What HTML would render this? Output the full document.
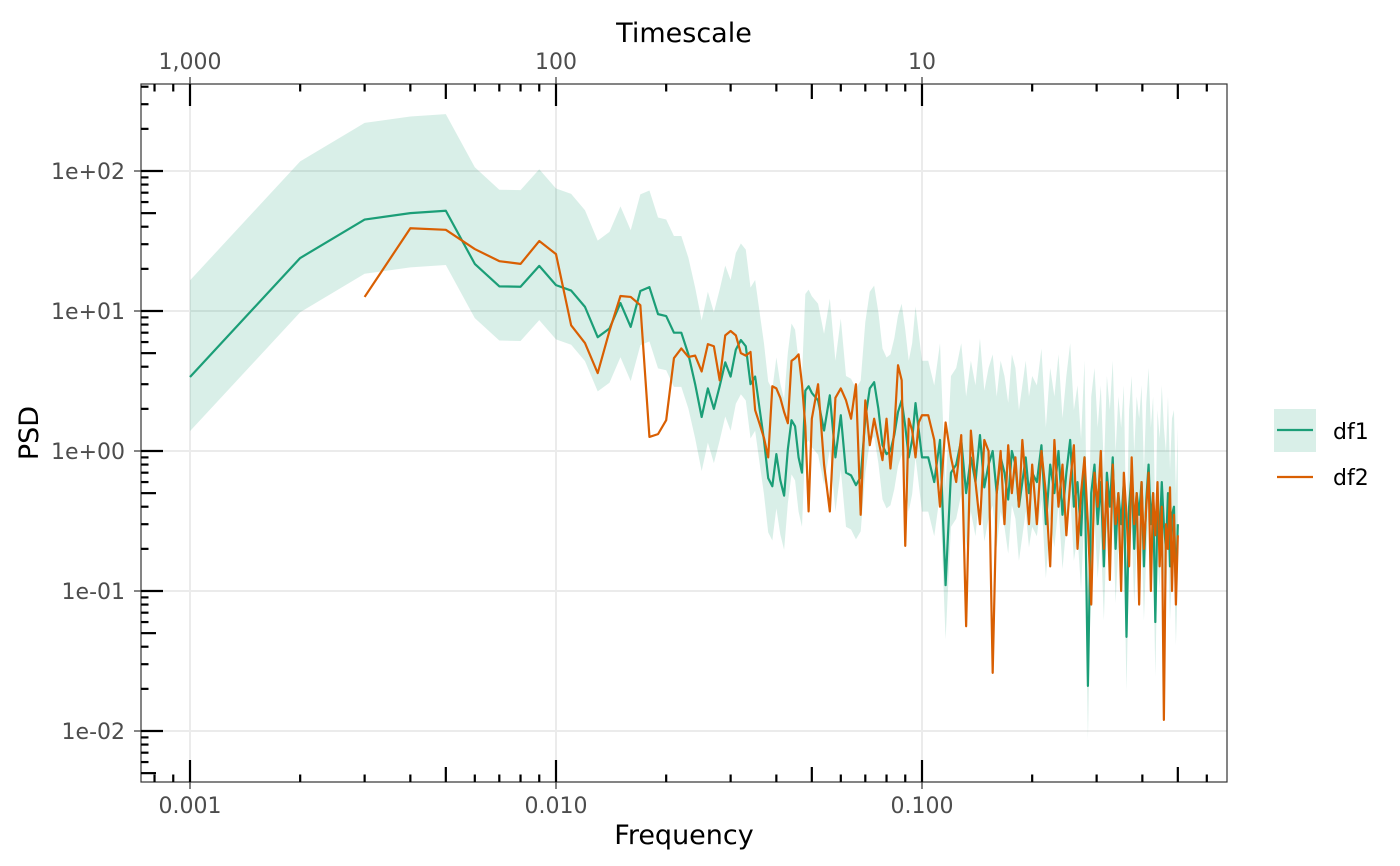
<!DOCTYPE html>
<html><head><meta charset="utf-8"><style>
html,body{margin:0;padding:0;background:#fff;}
svg{display:block;font-family:"DejaVu Sans","Liberation Sans",sans-serif;}
</style></head><body>
<svg id="chart" width="1400" height="866" viewBox="0 0 1400 866">
<defs><clipPath id="clip"><rect x="141" y="84" width="1086" height="698"/></clipPath></defs>
<g id="grid"></g>
<g id="marks" clip-path="url(#clip)"></g>
<rect x="141" y="84" width="1086" height="698" fill="none" stroke="#333" stroke-width="1.2"/>
<g id="axes"></g>
<text x="684" y="844" text-anchor="middle" font-size="27" fill="#000">Frequency</text>
<text x="684" y="42" text-anchor="middle" font-size="27" fill="#000">Timescale</text>
<text transform="translate(38,433) rotate(-90)" text-anchor="middle" font-size="27" fill="#000">PSD</text>
<g>
<g>
<rect x="1274" y="409" width="42" height="43" fill="#d9efe8"/>
<line x1="1277" y1="430" x2="1313" y2="430" stroke="#1b9e77" stroke-width="2.2"/>
<text x="1333" y="439" font-size="22" fill="#000">df1</text>
</g>
<g>
<line x1="1277" y1="477" x2="1313" y2="477" stroke="#d95f02" stroke-width="2.2"/>
<text x="1333" y="485" font-size="22" fill="#000">df2</text>
</g>
</g>
</svg>
<script>
const freq = [0.001,0.002,0.003,0.004,0.005,0.006,0.007,0.008,0.009,0.010,
0.011,0.012,0.013,0.014,0.015,0.016,0.017,0.018,0.019,0.020,
0.021,0.022,0.023,0.024,0.025,0.026,0.027,0.028,0.029,0.030,
0.031,0.032,0.033,0.034,0.035,0.036,0.037,0.038,0.039,0.040,
0.041,0.042,0.043,0.044,0.045,0.046,0.047,0.048,0.049,0.050,
0.052,0.054,0.056,0.058,0.060,0.062,0.064,0.066,0.068,0.070,
0.072,0.074,0.076,0.078,0.080,0.082,0.084,0.086,0.088,0.090,
0.092,0.094,0.096,0.098,0.100,
0.104,0.108,0.112,0.116,0.120,0.124,0.128,0.132,0.136,0.140,
0.144,0.148,0.152,0.156,0.160,0.164,0.168,0.172,0.176,0.180,
0.184,0.188,0.192,0.196,0.200,
0.206,0.212,0.218,0.224,0.230,0.236,0.242,0.248,0.254,0.260,
0.266,0.272,0.278,0.284,0.290,0.296,0.302,0.308,0.314,0.320,
0.326,0.332,0.338,0.344,0.350,0.356,0.362,0.368,0.374,0.380,
0.386,0.392,0.398,0.404,0.410,0.416,0.422,0.428,0.434,0.440,
0.446,0.452,0.458,0.464,0.470,0.476,0.482,0.488,0.494,0.500];
const psd1 = [3.38,23.9,45,50,52,21.7,15,14.9,21,15.3,
14,10.7,6.5,7.5,11.4,7.7,13.9,14.8,9.5,9.2,
7,7,4.9,3,1.75,2.8,2,2.9,4.3,3.4,
5.3,6.2,5.6,3,3.4,2,1.2,0.64,0.56,0.95,
0.62,0.48,1.03,1.66,1.5,0.9,0.7,2.7,2.9,2.6,
2.3,1.4,2.5,0.9,1.8,0.7,0.67,0.57,0.65,1.7,
2.8,3.1,2.0,1.1,0.95,1.0,1.3,1.9,2.3,1.5,
0.9,1.2,2.2,1.4,0.9,
0.9,0.6,1.2,0.11,0.7,0.8,1.2,0.5,0.9,0.6,
1.3,0.55,0.8,1.0,0.5,0.9,0.7,0.45,1.0,0.8,
0.4,0.6,0.9,0.5,0.7,
0.6,1.1,0.3,0.8,0.5,1.0,0.35,0.7,1.2,0.4,
0.6,0.25,0.9,0.021,0.5,0.8,0.3,0.6,0.15,0.7,
0.4,0.9,0.2,0.5,0.3,0.6,0.047,0.4,0.7,0.2,
0.5,0.35,0.6,0.15,0.45,0.8,0.3,0.5,0.06,0.4,
0.25,0.6,0.3,0.2,0.5,0.15,0.35,0.4,0.1,0.3];
const psd2 = [null,null,12.6,39,38,27.7,22.7,21.7,31.6,25.5,
7.9,5.9,3.6,7.2,12.8,12.6,11,1.26,1.32,1.66,
4.6,5.4,4.7,4.8,3.7,5.8,5.6,3.2,6.7,7.2,
6.7,5,4.8,5.1,1.96,1.56,1.24,0.9,2.9,2.8,
2.4,1.9,1.58,4.4,4.6,4.9,3,1.5,0.37,1.7,
3.0,0.8,0.37,2.4,2.8,2.3,1.7,3.0,0.35,2.3,
1.1,1.7,1.2,0.86,1.7,0.75,1.4,4.1,3.2,0.21,
1.7,1.4,0.9,1.6,1.8,
1.8,1.2,0.4,1.6,0.9,0.6,1.3,0.056,1.4,0.6,
0.3,1.2,1.0,0.026,0.5,1.0,0.3,1.1,0.5,0.9,
0.4,1.2,0.6,0.3,0.8,
0.3,1.0,0.5,0.15,1.2,0.4,0.8,0.25,0.6,1.1,
0.2,0.5,0.9,0.3,0.08,0.7,0.4,1.0,0.2,0.6,
0.12,0.8,0.3,0.5,0.1,0.7,0.35,0.15,0.9,0.3,
0.5,0.08,0.6,0.2,0.4,0.7,0.1,0.5,0.25,0.6,
0.15,0.4,0.012,0.3,0.2,0.55,0.1,0.35,0.08,0.25];
const ciLow = 0.41, ciHigh = 4.9;
const xTickVals = [0.001,0.01,0.1];
const xTickLabels = ["0.001","0.010","0.100"];
const topTickLabels = ["1,000","100","10"];
const yTickVals = [0.01,0.1,1,10,100];
const yTickLabels = ["1e-02","1e-01","1e+00","1e+01","1e+02"];

const NS="http://www.w3.org/2000/svg";
const X0=190, XD=366, Y0=451, YD=140, L=141, R=1227, T=84, B=782;
function xs(f){return X0+XD*Math.log10(f/0.001);}
function ys(v){return Y0-YD*Math.log10(v);}
function mk(tag,attrs,parent){const e=document.createElementNS(NS,tag);for(const k in attrs)e.setAttribute(k,attrs[k]);parent.appendChild(e);return e;}
const grid=document.getElementById('grid'),marks=document.getElementById('marks'),axes=document.getElementById('axes');

xTickVals.forEach(v=>{const l=mk('line',{x1:xs(v),x2:xs(v),y1:T,y2:B,stroke:'#ebebeb','stroke-width':2},grid);

});
yTickVals.forEach(v=>{const l=mk('line',{x1:L,x2:R,y1:ys(v),y2:ys(v),stroke:'#ebebeb','stroke-width':2},grid);

});

let up=[],lo=[];
freq.forEach((f,i)=>{up.push(xs(f)+','+ys(psd1[i]*ciHigh));lo.unshift(xs(f)+','+ys(psd1[i]*ciLow));});
const rib=mk('polygon',{points:up.concat(lo).join(' '),fill:'#1b9e77','fill-opacity':0.17},marks);


function line(arr,color,name){let pts=[];arr.forEach((v,i)=>{if(v!=null)pts.push(xs(freq[i])+','+ys(v));});
const p=mk('polyline',{points:pts.join(' '),fill:'none',stroke:color,'stroke-width':2.2,'stroke-linejoin':'round'},marks);

}
line(psd1,'#1b9e77','df1-line');
line(psd2,'#d95f02','df2-line');

function logTicks(minE,maxE,cb){for(let e=minE;e<=maxE;e++)for(let m=1;m<=9;m++)cb(m*Math.pow(10,e),m);}
logTicks(-4,0,(v,m)=>{const x=xs(v);if(x<L||x>R)return;const len=m===1?22:(m===5?15:7.5);
mk('line',{x1:x,x2:x,y1:B,y2:B-len,stroke:'#000','stroke-width':2.2},axes);
mk('line',{x1:x,x2:x,y1:T,y2:T+len,stroke:'#000','stroke-width':2.2},axes);});
logTicks(-3,2,(v,m)=>{const y=ys(v);if(y<T||y>B)return;const len=m===1?22:(m===5?15:7.5);
mk('line',{x1:L,x2:L+len,y1:y,y2:y,stroke:'#000','stroke-width':2.2},axes);});
xTickVals.forEach((v,i)=>{const x=xs(v);
mk('line',{x1:x,x2:x,y1:B,y2:B+7,stroke:'#333','stroke-width':1.2},axes);
mk('line',{x1:x,x2:x,y1:T,y2:T-7,stroke:'#333','stroke-width':1.2},axes);
const t=mk('text',{x:x,y:813,'text-anchor':'middle','font-size':22,fill:'#4d4d4d'},axes);t.textContent=xTickLabels[i];


const t2=mk('text',{x:x,y:69,'text-anchor':'middle','font-size':22,fill:'#4d4d4d'},axes);t2.textContent=topTickLabels[i];

});
yTickVals.forEach((v,i)=>{const y=ys(v);
mk('line',{x1:L,x2:L-7,y1:y,y2:y,stroke:'#333','stroke-width':1.2},axes);
const t=mk('text',{x:125,y:y+8,'text-anchor':'end','font-size':22,fill:'#4d4d4d'},axes);t.textContent=yTickLabels[i];

});
</script>
</body></html>
